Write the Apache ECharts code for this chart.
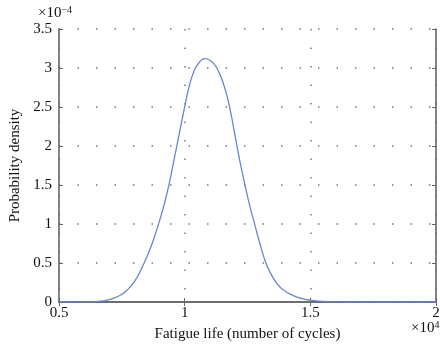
<!DOCTYPE html>
<html>
<head>
<meta charset="utf-8">
<script src="https://cdn.jsdelivr.net/npm/echarts@6/dist/echarts.min.js"></script>
<style>html,body{margin:0;padding:0;background:#fff}#c{width:440px;height:345px}</style>
</head>
<body>
<div id="c"></div>
<script>
// Fatigue life (x10^4 cycles)
var fatigueLife = [0.5, 0.6, 0.65, 0.7, 0.74, 0.77, 0.8, 0.83, 0.86, 0.88, 0.9, 0.92, 0.94, 0.96, 0.98, 1.0, 1.02, 1.04, 1.06, 1.08, 1.1, 1.12, 1.14, 1.16, 1.18, 1.2, 1.22, 1.24, 1.26, 1.28, 1.3, 1.32, 1.34, 1.36, 1.38, 1.4, 1.42, 1.45, 1.48, 1.5, 1.55, 1.6, 1.7, 1.8, 2.0];
// Probability density (x10^-4)
var density = [0, 0.001, 0.006, 0.03, 0.08, 0.15, 0.26, 0.44, 0.66, 0.84, 1.04, 1.27, 1.54, 1.86, 2.18, 2.5, 2.79, 2.98, 3.08, 3.12, 3.1, 3.04, 2.92, 2.74, 2.48, 2.14, 1.8, 1.5, 1.22, 0.98, 0.74, 0.53, 0.38, 0.27, 0.19, 0.14, 0.1, 0.06, 0.035, 0.025, 0.008, 0.002, 0, 0, 0];
var xTicks = [0.5, 1, 1.5, 2];
var yTicks = [0, 0.5, 1, 1.5, 2, 2.5, 3, 3.5];

var font = 'Liberation Serif';
var axisCol = '#666';
var txt = '#111';
var chart = echarts.init(document.getElementById('c'));
var pts = fatigueLife.map(function (x, i) { return [x, density[i]]; });
var split = { show: true, lineStyle: { color: '#777', type: [1.5, 17], width: 1.5 } };
var sup = { s: { fontSize: 10, verticalAlign: 'top', padding: [0, 0, 7, 0], fontFamily: font, fill: txt } };
chart.setOption({
  animation: false,
  grid: { left: 59, right: 4, top: 29, bottom: 43, containLabel: false, outerBoundsMode: 'none' },
  graphic: [
    { type: 'text', left: 38, top: 5, style: { text: '×10{s|−4}', font: '15px "' + font + '"', fill: txt, rich: sup } },
    { type: 'text', left: 411, top: 320, style: { text: '×10{s|4}', font: '15px "' + font + '"', fill: txt, rich: sup } }
  ],
  xAxis: [{
    type: 'value', min: xTicks[0], max: xTicks[xTicks.length - 1], interval: 0.5,
    name: 'Fatigue life (number of cycles)', nameLocation: 'middle', nameGap: 25,
    nameTextStyle: { fontFamily: font, fontSize: 15, color: txt },
    axisLine: { show: true, lineStyle: { color: axisCol, width: 1.6 } },
    axisTick: { show: true, inside: true, length: 4, lineStyle: { color: axisCol } },
    axisLabel: { fontFamily: font, fontSize: 15, color: txt, margin: 4 },
    splitLine: split
  }, {
    type: 'value', position: 'top', min: 0.5, max: 2, interval: 0.5,
    axisLine: { show: true, lineStyle: { color: axisCol, width: 1.6 } },
    axisTick: { show: true, inside: true, length: 4, lineStyle: { color: axisCol } },
    axisLabel: { show: false }, splitLine: { show: false }
  }],
  yAxis: [{
    type: 'value', min: yTicks[0], max: yTicks[yTicks.length - 1], interval: 0.5,
    name: 'Probability density', nameLocation: 'middle', nameGap: 35,
    nameTextStyle: { fontFamily: font, fontSize: 15, color: txt },
    axisLine: { show: true, lineStyle: { color: axisCol, width: 1.6 } },
    axisTick: { show: true, inside: true, length: 4, lineStyle: { color: axisCol } },
    axisLabel: { fontFamily: font, fontSize: 15, color: txt, margin: 7 },
    splitLine: split
  }, {
    type: 'value', position: 'right', min: 0, max: 3.5, interval: 0.5,
    axisLine: { show: true, lineStyle: { color: axisCol, width: 1.6 } },
    axisTick: { show: true, inside: true, length: 4, lineStyle: { color: axisCol } },
    axisLabel: { show: false }, splitLine: { show: false }
  }],
  series: [{
    type: 'line', data: pts, smooth: 0.5, showSymbol: false,
    lineStyle: { color: '#6a86cc', width: 1.3 }
  }]
});
</script>
</body>
</html>
